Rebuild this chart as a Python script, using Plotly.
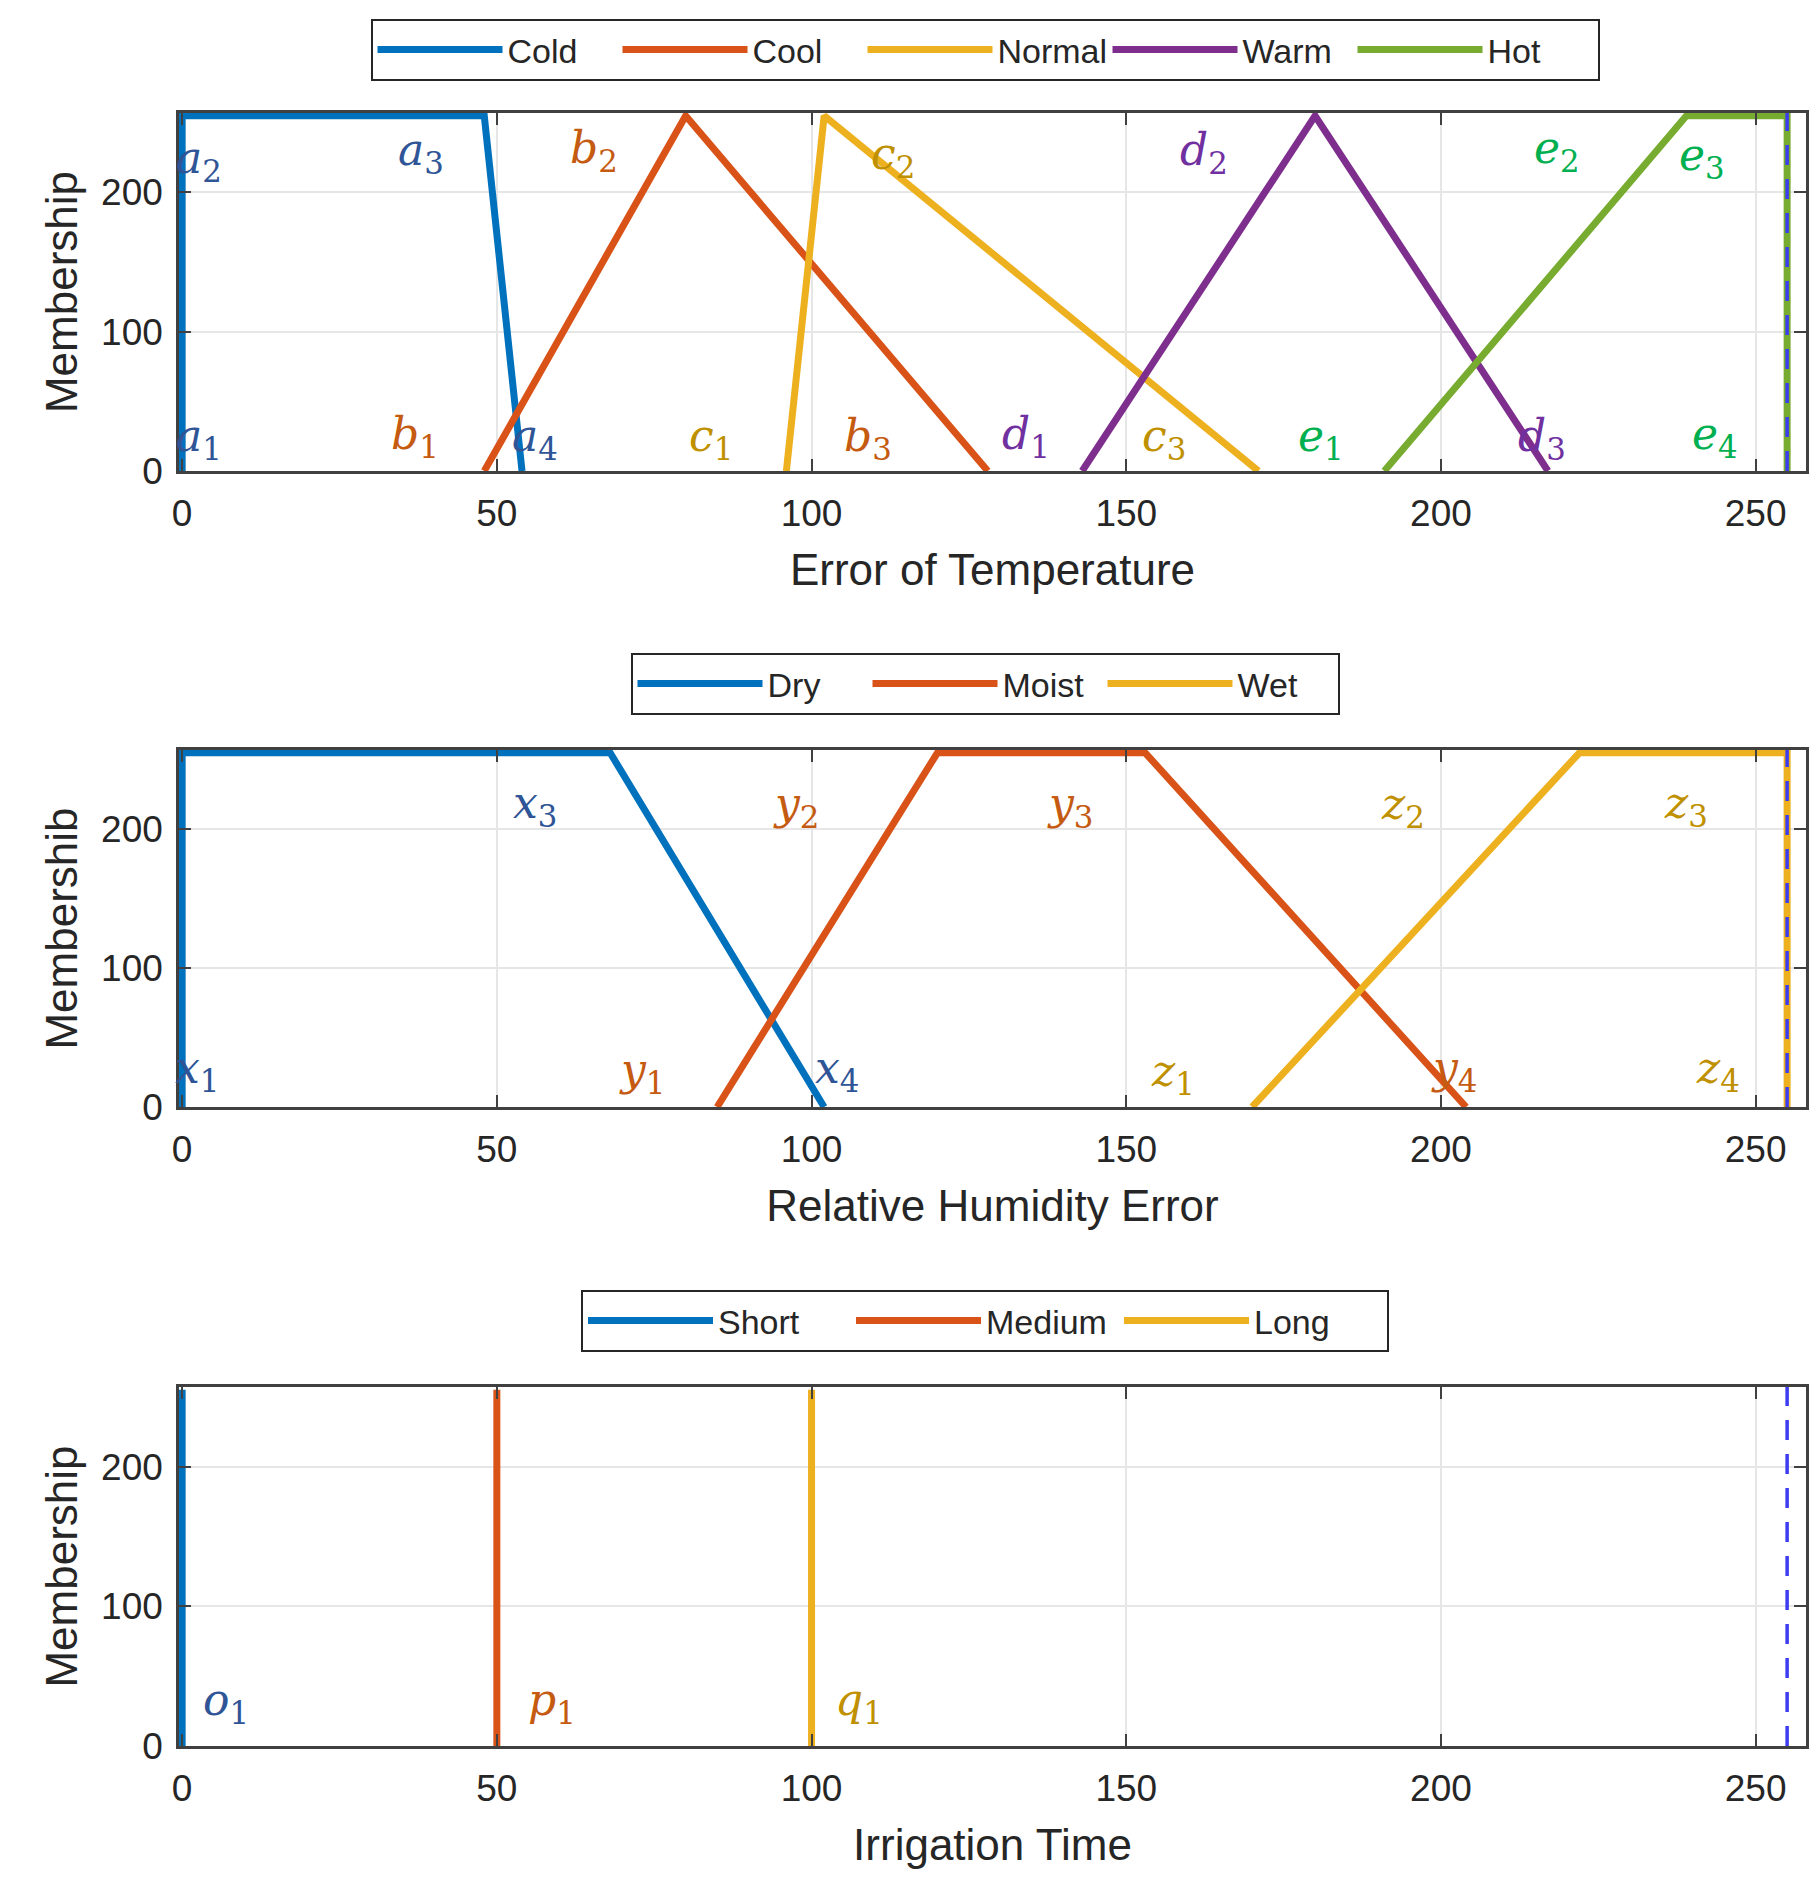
import plotly.graph_objects as go

# MATLAB default line colours
colors = ['#0072BD', '#D95319', '#EDB120', '#7E2F8E', '#77AC30']

# panel 1: error of temperature
temp_names = ['Cold', 'Cool', 'Normal', 'Warm', 'Hot']
temp_x = [[0, 0, 48, 54], [48, 80, 128], [96, 102, 171], [143, 180, 217], [191, 239, 255, 255]]
temp_y = [[0, 255, 255, 0], [0, 255, 0], [0, 255, 0], [0, 255, 0], [0, 255, 255, 0]]
temp_lbl = ['a2', 'a3', 'b2', 'c2', 'd2', 'e2', 'e3',
            'a1', 'b1', 'a4', 'c1', 'b3', 'd1', 'c3', 'e1', 'd3', 'e4']
temp_lbl_x = [2.6, 38, 65.4, 113, 162.4, 218.5, 241.4,
              2.6, 37, 56, 84, 109, 134, 156, 181, 216, 243.5]
temp_lbl_y = [223, 229, 230, 226, 229, 230, 225,
              23, 25, 23, 23, 23, 25, 23, 23, 23, 25]

# panel 2: relative humidity error
hum_names = ['Dry', 'Moist', 'Wet']
hum_x = [[0, 0, 68, 102], [85, 120, 153, 204], [170, 222, 255, 255]]
hum_y = [[0, 255, 255, 0], [0, 255, 255, 0], [0, 255, 255, 0]]
hum_lbl = ['x2', 'x3', 'y2', 'y3', 'z2', 'z3', 'x1', 'y1', 'x4', 'z1', 'y4', 'z4']
hum_lbl_x = [-2.4, 56, 97.5, 141, 194, 239, 2.3, 73, 104, 157.5, 202, 244]
hum_lbl_y = [216, 217, 216, 216, 216, 217, 26, 25, 26, 24, 26, 26]

# panel 3: irrigation time (singletons)
irr_names = ['Short', 'Medium', 'Long']
irr_x = [[0, 0], [50, 50], [100, 100]]
irr_y = [[0, 255], [0, 255], [0, 255]]
irr_lbl = ['o1', 'p1', 'q1']
irr_lbl_x = [7, 58.8, 107.5]
irr_lbl_y = [31, 31, 31]

# upper limit marker
limit_x = [255, 255]
limit_y = [0, 257]

lbl_colors = {'a': '#2F5597', 'b': '#C55A11', 'c': '#BF9000', 'd': '#7030A0', 'e': '#00B050',
              'x': '#2F5597', 'y': '#C55A11', 'z': '#BF9000',
              'o': '#2F5597', 'p': '#C55A11', 'q': '#BF9000'}

W, H = 1819, 1878
# (names, xs, ys, labels, label x, label y, x title, y title, plot top/bottom px, legend centre px, entry width)
panels = [
    (temp_names, temp_x, temp_y, temp_lbl, temp_lbl_x, temp_lbl_y,
     'Error of Temperature', 'Membership', (105, 463), 42, 105),
    (hum_names, hum_x, hum_y, hum_lbl, hum_lbl_x, hum_lbl_y,
     'Relative Humidity Error', 'Membershib', (742, 1099), 676, 95),
    (irr_names, irr_x, irr_y, irr_lbl, irr_lbl_x, irr_lbl_y,
     'Irrigation Time', 'Membership', (1379, 1738), 1313, 128),
]

fig = go.Figure()
annotations = []
axis_font = dict(family='Liberation Sans', size=37, color='#262626')
title_font = dict(family='Liberation Sans', size=44, color='#262626')

for i, (names, xs, ys, lbls, lx, ly, xtitle, ytitle, (top, bot), leg_y, ew) in enumerate(panels):
    n = '' if i == 0 else str(i + 1)
    leg = 'legend' + n
    for j, name in enumerate(names):
        fig.add_trace(go.Scatter(
            x=xs[j], y=ys[j], mode='lines', name=name,
            line=dict(color=colors[j], width=7),
            xaxis='x' + n, yaxis='y' + n, legend=leg, cliponaxis=False))
    fig.add_trace(go.Scatter(
        x=limit_x, y=limit_y, mode='lines', showlegend=False,
        line=dict(color='#3C3CF0', width=3.5, dash='20px,14px'),
        xaxis='x' + n, yaxis='y' + n, cliponaxis=False))

    for t, x, y in zip(lbls, lx, ly):
        annotations.append(dict(
            x=x, y=y, xref='x' + n, yref='y' + n,
            text='<i>%s</i><sub>%s</sub>' % (t[0], t[1]),
            showarrow=False, xanchor='center', yanchor='middle',
            font=dict(family='DejaVu Serif', size=44, color=lbl_colors[t[0]])))

    fig.layout['xaxis' + n] = dict(
        domain=[171 / W, 1798 / W], range=[-0.5, 258], anchor='y' + n, automargin=False,
        tickvals=[0, 50, 100, 150, 200, 250], ticks='inside', ticklen=12,
        tickwidth=2, tickcolor='#404040', showline=True, linecolor='#404040',
        linewidth=2.5, mirror='ticks', showgrid=True, gridcolor='#E6E6E6',
        gridwidth=1.5, zeroline=False, tickfont=axis_font, ticklabelstandoff=8,
        title=dict(text=xtitle, font=title_font, standoff=22))
    fig.layout['yaxis' + n] = dict(
        domain=[1 - bot / H, 1 - top / H], range=[0, 257], anchor='x' + n, automargin=False,
        tickvals=[0, 100, 200], ticks='inside', ticklen=12,
        tickwidth=2, tickcolor='#404040', showline=True, linecolor='#404040',
        linewidth=2.5, mirror='ticks', showgrid=True, gridcolor='#E6E6E6',
        gridwidth=1.5, zeroline=False, tickfont=axis_font, ticklabelstandoff=6,
        title=dict(text=ytitle, font=title_font, standoff=10))
    fig.layout[leg] = dict(
        orientation='h', x=977 / W, xanchor='center', y=1 - leg_y / H, yanchor='middle',
        bgcolor='white', bordercolor='#262626', borderwidth=2,
        font=dict(family='Liberation Sans', size=34, color='#262626'),
        itemwidth=125, entrywidth=ew, entrywidthmode='pixels', tracegroupgap=0)

fig.update_layout(
    width=W, height=H, autosize=False,
    margin=dict(l=0, r=0, t=0, b=0),
    paper_bgcolor='white', plot_bgcolor='white',
    annotations=annotations)

fig.write_html("out.html")
